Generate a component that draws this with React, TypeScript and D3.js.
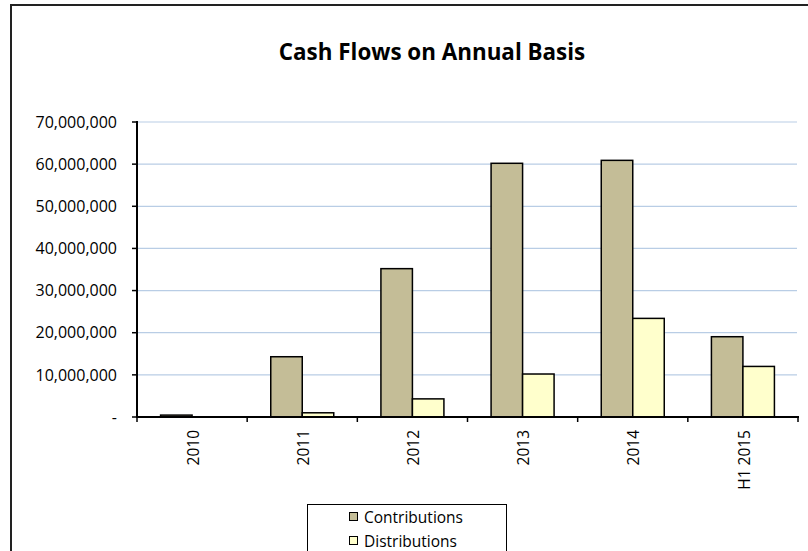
import React from "react";
import * as d3 from "d3";

const categories = ["2010", "2011", "2012", "2013", "2014", "H1 2015"];
const contributions = [450000, 14300000, 35200000, 60200000, 60900000, 19050000];
const distributions = [0, 1000000, 4300000, 10200000, 23400000, 12000000];
const yTicks = [0, 10000000, 20000000, 30000000, 40000000, 50000000, 60000000, 70000000];
const seriesNames = ["Contributions", "Distributions"];
const seriesColors = ["#c4bd97", "#ffffcc"];

const FONT = "'Open Sans', sans-serif";

export default function App() {
  const W = 808;
  const H = 551;
  const x = d3.scaleBand<string>().domain(categories).range([137, 798]).padding(0);
  const y = d3.scaleLinear().domain([0, 70000000]).range([417, 122]);
  const barW = 31.5;
  const fmt = (v: number) => (v === 0 ? "-" : d3.format(",")(v));
  const series = [contributions, distributions];

  return (
    <svg
      width={W}
      height={H}
      style={{ position: "absolute", left: 0, top: 0, background: "#fff" }}
      fontFamily={FONT}
    >
      <rect x={0} y={0} width={W} height={H} fill="#fff" />
      {/* outer frame */}
      <rect x={11} y={5} width={W + 50} height={H + 50} fill="none" stroke="#222" strokeWidth={2} />
      {/* title */}
      <text x={432} y={60} textAnchor="middle" fontSize={22.4} fontWeight="bold" fill="#000">
        Cash Flows on Annual Basis
      </text>
      {/* gridlines */}
      {yTicks.filter((t) => t > 0).map((t) => (
        <line key={"g" + t} x1={137} x2={797} y1={y(t)} y2={y(t)} stroke="#b9cde5" strokeWidth={1.2} />
      ))}
      {/* bars */}
      {categories.map((c, i) => {
        const cx = (x(c) as number) + x.bandwidth() / 2;
        return series.map((s, si) => {
          const v = s[i];
          if (v <= 0) return null;
          const top = y(v);
          return (
            <rect
              key={c + si}
              x={cx - barW + si * barW}
              y={top}
              width={barW}
              height={y(0) - top}
              fill={seriesColors[si]}
              stroke="#000"
              strokeWidth={1.5}
            />
          );
        });
      })}
      {/* y axis */}
      <line x1={137} x2={137} y1={121} y2={418} stroke="#000" strokeWidth={2} />
      {yTicks.map((t) => (
        <g key={"yt" + t}>
          <line x1={132} x2={137} y1={y(t)} y2={y(t)} stroke="#000" strokeWidth={1.5} />
          <text x={117} y={y(t)} dy="0.36em" textAnchor="end" fontSize={16} fill="#000">
            {fmt(t)}
          </text>
        </g>
      ))}
      {/* x axis */}
      <line x1={136} x2={799} y1={417} y2={417} stroke="#000" strokeWidth={2} />
      {categories.concat(["__end"]).map((c, i) => {
        const xp = 137 + i * x.bandwidth();
        return <line key={"xt" + i} x1={xp} x2={xp} y1={417} y2={422} stroke="#000" strokeWidth={1.5} />;
      })}
      {categories.map((c) => {
        const cx = (x(c) as number) + x.bandwidth() / 2 + 1;
        return (
          <text
            key={"xl" + c}
            transform={`translate(${cx},430) rotate(-90)`}
            textAnchor="end"
            dy="0.36em"
            fontSize={15.5}
            fill="#000"
          >
            {c}
          </text>
        );
      })}
      {/* legend */}
      <rect x={307.5} y={504.5} width={199} height={70} fill="#fff" stroke="#000" strokeWidth={1} />
      {seriesNames.map((n, i) => {
        const cy = 517 + i * 24;
        return (
          <g key={n}>
            <rect x={349.5} y={cy - 4.5} width={8} height={8} fill={seriesColors[i]} stroke="#000" strokeWidth={1} />
            <text x={364} y={cy} dy="0.36em" fontSize={15.5} fill="#000">
              {n}
            </text>
          </g>
        );
      })}
    </svg>
  );
}
